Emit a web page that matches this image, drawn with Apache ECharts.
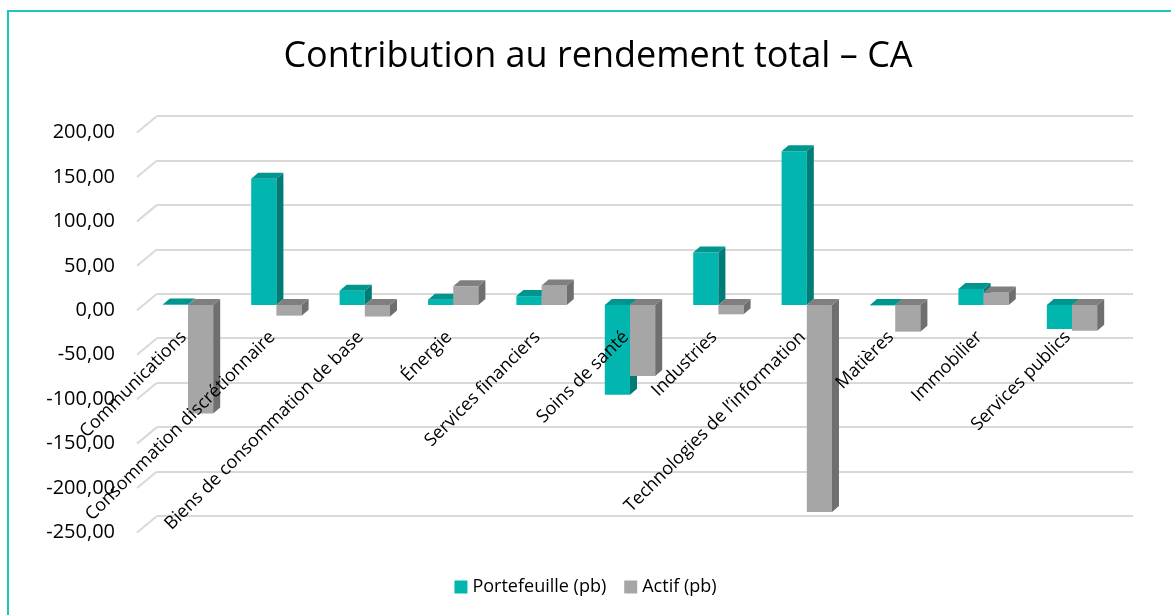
<!DOCTYPE html>
<html>
<head>
<meta charset="utf-8">
<script src="https://cdn.jsdelivr.net/npm/echarts@6/dist/echarts.min.js"></script>
<style>html,body{margin:0;padding:0;background:#fff;}#c{width:1171px;height:615px;}</style>
</head>
<body>
<div id="c"></div>
<script>
const titleText = 'Contribution au rendement total – CA';
const categories = ['Communications', 'Consommation discrétionnaire', 'Biens de consommation de base', 'Énergie', 'Services financiers', 'Soins de santé', 'Industries', 'Technologies de l’information', 'Matières', 'Immobilier', 'Services publics'];
const seriesNames = ['Portefeuille (pb)', 'Actif (pb)'];
const portefeuille = [0.5, 142, 16, 6, 10, -101, 59, 173, -0.5, 18, -27];
const actif = [-122, -12, -13, 21, 22, -80, -10.5, -233, -30, 14, -29];
const yTicks = [-250, -200, -150, -100, -50, 0, 50, 100, 150, 200];

const Y_MIN = -250, Y_MAX = 200, Y_INT = 50;
const DEPTH = [7, -6];
const faceColors = [
  { front: '#00B6AE', side: '#007C77', top: '#00968F' },
  { front: '#A6A6A6', side: '#6F6F6F', top: '#7F7F7F' }
];
const fmt = v => v.toFixed(2).replace('.', ',');

function barRender(si) {
  return function (params, api) {
    const c = api.coord([api.value(0), 0]);
    const v = api.coord([api.value(0), api.value(1)]);
    const band = api.size([1, 0])[0];
    const bw = band * 0.285;
    const x0 = si === 0 ? c[0] - bw : c[0];
    const yt = Math.min(c[1], v[1]);
    const yb = Math.max(c[1], v[1]);
    const col = faceColors[si];
    const dx = DEPTH[0], dy = DEPTH[1];
    return {
      type: 'group',
      children: [
        { type: 'rect', shape: { x: x0, y: yt, width: bw, height: yb - yt }, style: { fill: col.front } },
        { type: 'polygon', shape: { points: [[x0 + bw, yt], [x0 + bw, yb], [x0 + bw + dx, yb + dy], [x0 + bw + dx, yt + dy]] }, style: { fill: col.side } },
        { type: 'polygon', shape: { points: [[x0, yt], [x0 + bw, yt], [x0 + bw + dx, yt + dy], [x0 + dx, yt + dy]] }, style: { fill: col.top } }
      ]
    };
  };
}

const chart = echarts.init(document.getElementById('c'), null, { renderer: 'canvas' });
const FONT = 'Open Sans';
const BAR_TOP = 127.2, BAR_H = 400;
const zeroOffset = -(BAR_H * (0 - Y_MIN) / (Y_MAX - Y_MIN)); // move category axis up to the zero line
const option = {
  backgroundColor: '#fff',
  animation: false,
  textStyle: { fontFamily: FONT },
  title: {
    text: titleText, left: 593, top: 34, textAlign: 'center',
    textStyle: { fontFamily: FONT, fontSize: 36, fontWeight: 'normal', color: '#000' }
  },
  legend: {
    data: seriesNames, bottom: 14, left: 'center', icon: 'rect', itemWidth: 13, itemHeight: 13, itemGap: 18,
    textStyle: { fontFamily: FONT, fontSize: 18, color: '#000' }
  },
  graphic: [{
    type: 'rect', shape: { x: 8, y: 11, width: 1300, height: 800 },
    style: { fill: 'none', stroke: '#1CC6BB', lineWidth: 2 }, z: -1, silent: true
  }],
  grid: [
    { left: 137, right: 58, top: 132.5, height: 400, outerBoundsMode: 'none' },   // front plane (labels)
    { left: 157, right: 38, top: 116, height: 400, outerBoundsMode: 'none' },     // back plane (gridlines)
    { left: 143.8, right: 54.8, top: BAR_TOP, height: BAR_H, outerBoundsMode: 'none' } // bars
  ],
  xAxis: [
    { gridIndex: 0, type: 'category', data: categories, show: false },
    { gridIndex: 1, type: 'category', data: categories, show: false },
    {
      gridIndex: 2, type: 'category', data: categories, position: 'bottom', offset: zeroOffset, z: 10,
      axisLine: { show: false, onZero: false },
      axisTick: { show: false },
      axisLabel: { interval: 0, rotate: 45, margin: 25, padding: [0, 6, 0, 0], fontFamily: FONT, fontSize: 18, color: '#000' }
    }
  ],
  yAxis: [
    {
      gridIndex: 0, type: 'value', min: Y_MIN, max: Y_MAX, interval: Y_INT,
      axisLine: { show: false }, axisTick: { show: false }, splitLine: { show: false },
      axisLabel: { margin: 22, fontFamily: FONT, fontSize: 20, color: '#000', formatter: fmt, padding: [8, 0, 0, 0] }
    },
    {
      gridIndex: 1, type: 'value', min: Y_MIN, max: Y_MAX, interval: Y_INT,
      axisLine: { show: false }, axisTick: { show: false }, axisLabel: { show: false },
      splitLine: { show: true, lineStyle: { color: '#D9D9D9', width: 2 } }
    },
    { gridIndex: 2, type: 'value', min: Y_MIN, max: Y_MAX, interval: Y_INT, show: false, splitLine: { show: false } }
  ],
  series: [
    {
      type: 'custom', name: 'diag', xAxisIndex: 0, yAxisIndex: 0, silent: true,
      data: yTicks.map(t => [0, t]),
      renderItem: function (params, api) {
        const p = api.coord([0, api.value(1)]);
        const x = params.coordSys.x;
        return { type: 'line', shape: { x1: x, y1: p[1], x2: x + 20, y2: p[1] - 16.5 }, style: { stroke: '#D9D9D9', lineWidth: 2 } };
      },
      z: 1
    },
    {
      type: 'custom', name: seriesNames[0], xAxisIndex: 2, yAxisIndex: 2,
      itemStyle: { color: faceColors[0].front },
      data: portefeuille.map((v, i) => [i, v]),
      renderItem: barRender(0), z: 3
    },
    {
      type: 'custom', name: seriesNames[1], xAxisIndex: 2, yAxisIndex: 2,
      itemStyle: { color: faceColors[1].front },
      data: actif.map((v, i) => [i, v]),
      renderItem: barRender(1), z: 4
    }
  ]
};
chart.setOption(option);
</script>
</body>
</html>
